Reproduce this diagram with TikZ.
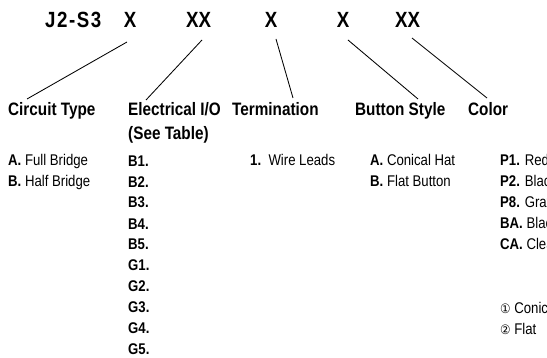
\documentclass[tikz,border=0pt]{standalone}
\usepackage{fontspec}
\setmainfont{Liberation Sans}[FakeStretch=0.85]
\newfontfamily\codefont{Liberation Sans}[FakeStretch=0.85]
\newfontfamily\codewide{Liberation Sans}[FakeStretch=0.85,LetterSpace=7]
\newfontfamily\symfont{DejaVu Sans}[FakeStretch=0.9]
\begin{document}
\begin{tikzpicture}[x=1pt,y=-1pt,
  code/.style={font=\codefont\fontsize{22}{24}\selectfont\bfseries, anchor=base, inner sep=0pt},
  head/.style={font=\fontsize{18}{24}\selectfont\bfseries, anchor=base west, inner sep=0pt, align=left},
  item/.style={font=\fontsize{15.5}{21}\selectfont, anchor=base west, inner sep=0pt, align=left},
  lead/.style={line width=0.85pt}]
\useasboundingbox (0,0) rectangle (547,358);
\clip (0,0) rectangle (547,358);
% top code row
\node[code, anchor=base west, font=\codewide\fontsize{22}{24}\selectfont\bfseries] (pn) at (45,28) {J2-S3};
\node[code] (c1) at (130,28) {X};
\node[code] (c2) at (198.5,28) {XX};
\node[code] (c3) at (271,28) {X};
\node[code] (c4) at (343,28) {X};
\node[code] (c5) at (407.5,28) {XX};
% headings (base anchor = last line)
\node[head] (h1) at (8,116) {Circuit Type};
\node[head] (h2) at (128,140) {Electrical I/O\\(See Table)};
\node[head] (h3) at (232,116) {Termination};
\node[head] (h4) at (355,116) {Button Style};
\node[head] (h5) at (468,116) {Color};
% connector ends
\coordinate (s1) at (127,42);  \coordinate (e1) at (27,99);
\coordinate (s2) at (202,40);  \coordinate (e2) at (146,100);
\coordinate (s3) at (276,39);  \coordinate (e3) at (293,98);
\coordinate (s4) at (348,40);  \coordinate (e4) at (418,99);
\coordinate (s5) at (412,38);  \coordinate (e5) at (487,98);
\draw[lead] (s1) -- (e1);
\draw[lead] (s2) -- (e2);
\draw[lead] (s3) -- (e3);
\draw[lead] (s4) -- (e4);
\draw[lead] (s5) -- (e5);
% lists (base anchor = last line)
\node[item] (l1) at (8,187) {\textbf{A.} Full Bridge\\\textbf{B.} Half Bridge};
\node[item] (l2) at (128,355) {\textbf{B1.}\\\textbf{B2.}\\\textbf{B3.}\\\textbf{B4.}\\\textbf{B5.}\\\textbf{G1.}\\\textbf{G2.}\\\textbf{G3.}\\\textbf{G4.}\\\textbf{G5.}};
\node[item] (l3) at (250,166) {\textbf{1.}\ \ Wire Leads};
\node[item] (l4) at (370,187) {\textbf{A.} Conical Hat\\\textbf{B.} Flat Button};
\node[item] (l5) at (500,250) {\textbf{P1.} Red\\\textbf{P2.} Black\\\textbf{P8.} Gray\\\textbf{BA.} Black\\\textbf{CA.} Clear};
\node[item] (n1) at (500,335) {{\symfont\fontsize{13}{21}\selectfont ①} Conical\\{\symfont\fontsize{13}{21}\selectfont ②} Flat};
\end{tikzpicture}
\end{document}
